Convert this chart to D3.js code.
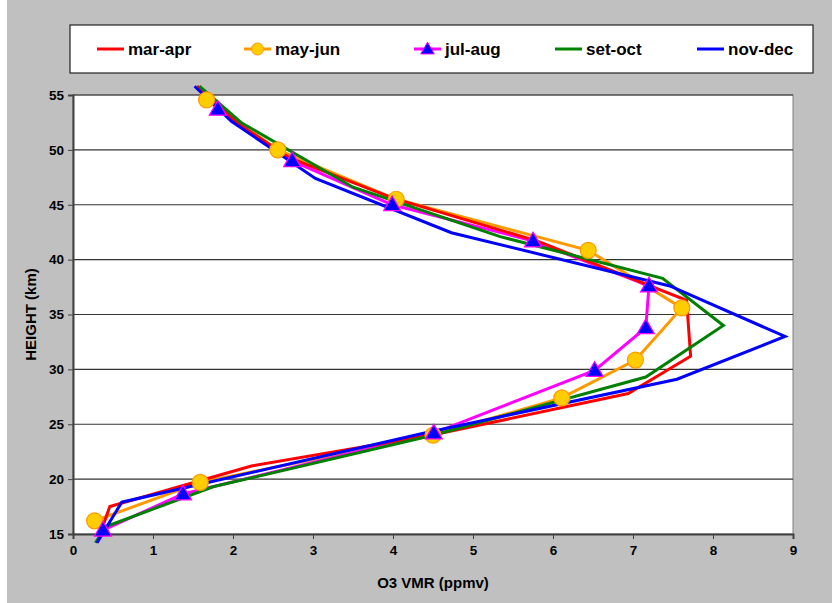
<!DOCTYPE html>
<html>
<head>
<meta charset="utf-8">
<script src="https://cdn.jsdelivr.net/npm/d3@7"></script>
<style>
  body { margin: 0; background: #c0c0c0; }
  svg { display: block; font-family: "Liberation Sans", Arial, sans-serif; }
</style>
</head>
<body>
<div id="chart"></div>
<script>
// O3 volume mixing ratio profiles, grouped by two-month periods
const seriesNames = ["mar-apr", "may-jun", "jul-aug", "set-oct", "nov-dec"];

const marAprVmr    = [1.55, 2.08, 2.70, 4.00, 5.80, 7.67, 7.72, 6.94, 4.55, 2.23, 0.46, 0.30];
const marAprHeight = [55.8, 52.3, 49.3, 45.6, 41.7, 36.3, 31.2, 27.8, 24.1, 21.2, 17.5, 14.2];

const mayJunVmr    = [1.67, 2.56, 4.04, 6.44, 7.61, 7.03, 6.11, 4.50, 1.59, 0.27];
const mayJunHeight = [54.55, 50.0, 45.5, 40.85, 35.6, 30.85, 27.4, 24.0, 19.7, 16.2];

const julAugVmr    = [1.81, 2.74, 3.99, 5.75, 7.20, 7.16, 6.52, 4.51, 1.375, 0.375];
const julAugHeight = [53.7, 49.0, 45.0, 41.7, 37.6, 33.8, 29.9, 24.2, 18.65, 15.35];

const setOctVmr    = [1.58, 2.10, 3.50, 5.34, 7.37, 8.13, 7.16, 4.50, 1.75, 0.42, 0.28];
const setOctHeight = [55.8, 52.5, 46.6, 42.1, 38.3, 34.0, 29.3, 24.0, 19.3, 15.7, 14.2];

const novDecVmr    = [1.52, 1.98, 3.03, 4.73, 7.46, 8.90, 7.55, 4.45, 0.61, 0.30];
const novDecHeight = [55.8, 52.6, 47.4, 42.45, 37.6, 33.0, 29.1, 24.3, 17.9, 14.2];

const xTicks = [0, 1, 2, 3, 4, 5, 6, 7, 8, 9];
const yTicks = [15, 20, 25, 30, 35, 40, 45, 50, 55];

const width = 832, height = 603;
const margin = { top: 95, right: 39, bottom: 69, left: 73 };

const svg = d3.select("#chart").append("svg")
    .attr("width", width)
    .attr("height", height);

svg.append("rect").attr("width", width).attr("height", height).attr("fill", "#c0c0c0");
svg.append("rect").attr("width", 7).attr("height", height).attr("fill", "#ffffff");

const x = d3.scaleLinear().domain([0, 9]).range([margin.left, width - margin.right]);
const y = d3.scaleLinear().domain([15, 55]).range([height - margin.bottom, margin.top]);

// plot area
svg.append("rect")
    .attr("x", x(0)).attr("y", y(55))
    .attr("width", x(9) - x(0)).attr("height", y(15) - y(55))
    .attr("fill", "#ffffff")
    .attr("stroke", "#808080");

// horizontal grid
svg.append("g")
    .selectAll("line")
    .data(yTicks.slice(1))
    .join("line")
    .attr("x1", x(0)).attr("x2", x(9))
    .attr("y1", d => y(d)).attr("y2", d => y(d))
    .attr("stroke", "#333")
    .attr("stroke-width", 1.2);

// axes
const xAxis = svg.append("g")
    .attr("transform", `translate(0,${y(15)})`)
    .call(d3.axisBottom(x).tickValues(xTicks).tickSize(5).tickPadding(6));
const yAxis = svg.append("g")
    .attr("transform", `translate(${x(0)},0)`)
    .call(d3.axisLeft(y).tickValues(yTicks).tickSize(5).tickPadding(4));

[xAxis, yAxis].forEach(g => {
    g.select(".domain").attr("stroke", "#404040").attr("stroke-width", 2);
    g.selectAll(".tick line").attr("stroke", "#404040");
    g.selectAll("text")
        .attr("font-family", "Liberation Sans, Arial, sans-serif")
        .attr("font-size", 13.5)
        .attr("font-weight", "bold")
        .attr("fill", "#000");
});

svg.append("text")
    .attr("x", (x(0) + x(9)) / 2)
    .attr("y", 588)
    .attr("text-anchor", "middle")
    .attr("font-size", 15)
    .attr("font-weight", "bold")
    .text("O3 VMR (ppmv)");

svg.append("text")
    .attr("transform", `translate(36,${(y(15) + y(55)) / 2}) rotate(-90)`)
    .attr("text-anchor", "middle")
    .attr("font-size", 15)
    .attr("font-weight", "bold")
    .text("HEIGHT (km)");

const series = [
    { name: seriesNames[0], vmr: marAprVmr, h: marAprHeight, color: "#ff0000", marker: null },
    { name: seriesNames[1], vmr: mayJunVmr, h: mayJunHeight, color: "#ff9900", marker: "circle" },
    { name: seriesNames[2], vmr: julAugVmr, h: julAugHeight, color: "#ff00ff", marker: "triangle" },
    { name: seriesNames[3], vmr: setOctVmr, h: setOctHeight, color: "#008000", marker: null },
    { name: seriesNames[4], vmr: novDecVmr, h: novDecHeight, color: "#0000ff", marker: null }
];

const line = d3.line().x(d => x(d[0])).y(d => y(d[1]));
const triangle = d3.symbol().type(d3.symbolTriangle).size(125);

// draw back to front like the original
const order = [1, 2, 0, 3, 4];
order.forEach(i => {
    const s = series[i];
    const pts = s.vmr.map((v, k) => [v, s.h[k]]);
    svg.append("path")
        .attr("d", line(pts))
        .attr("fill", "none")
        .attr("stroke", s.color)
        .attr("stroke-width", 3)
        .attr("stroke-linejoin", "miter");
});

[1, 2].forEach(i => {
    const s = series[i];
    const pts = s.vmr.map((v, k) => [v, s.h[k]]).filter(d => d[1] >= 15 && d[1] <= 55);
    const g = svg.append("g");
    if (s.marker === "circle") {
        g.selectAll("circle").data(pts).join("circle")
            .attr("cx", d => x(d[0])).attr("cy", d => y(d[1]))
            .attr("r", 8)
            .attr("fill", "#ffcc00")
            .attr("stroke", "#ff9900")
            .attr("stroke-width", 1.2);
    } else {
        g.selectAll("path").data(pts).join("path")
            .attr("d", triangle)
            .attr("transform", d => `translate(${x(d[0])},${y(d[1]) + 1})`)
            .attr("fill", "#0000ff")
            .attr("stroke", "#ff00ff")
            .attr("stroke-width", 1.2);
    }
});

// legend
const legend = svg.append("g");
legend.append("rect")
    .attr("x", 70).attr("y", 25)
    .attr("width", 743).attr("height", 48)
    .attr("fill", "#ffffff")
    .attr("stroke", "#222")
    .attr("stroke-width", 1.2);

const legendX = [97, 244, 414, 555, 697];
series.forEach((s, i) => {
    const lx = legendX[i], ly = 49;
    legend.append("line")
        .attr("x1", lx).attr("x2", lx + 27)
        .attr("y1", ly).attr("y2", ly)
        .attr("stroke", s.color)
        .attr("stroke-width", 3);
    if (s.marker === "circle") {
        legend.append("circle")
            .attr("cx", lx + 13.5).attr("cy", ly).attr("r", 6)
            .attr("fill", "#ffcc00").attr("stroke", "#ff9900");
    } else if (s.marker === "triangle") {
        legend.append("path")
            .attr("d", d3.symbol().type(d3.symbolTriangle).size(80))
            .attr("transform", `translate(${lx + 13.5},${ly + 1})`)
            .attr("fill", "#0000ff").attr("stroke", "#ff00ff");
    }
    legend.append("text")
        .attr("x", lx + 31).attr("y", ly + 6)
        .attr("font-size", 17)
        .attr("font-weight", "bold")
        .text(s.name);
});
</script>
</body>
</html>
